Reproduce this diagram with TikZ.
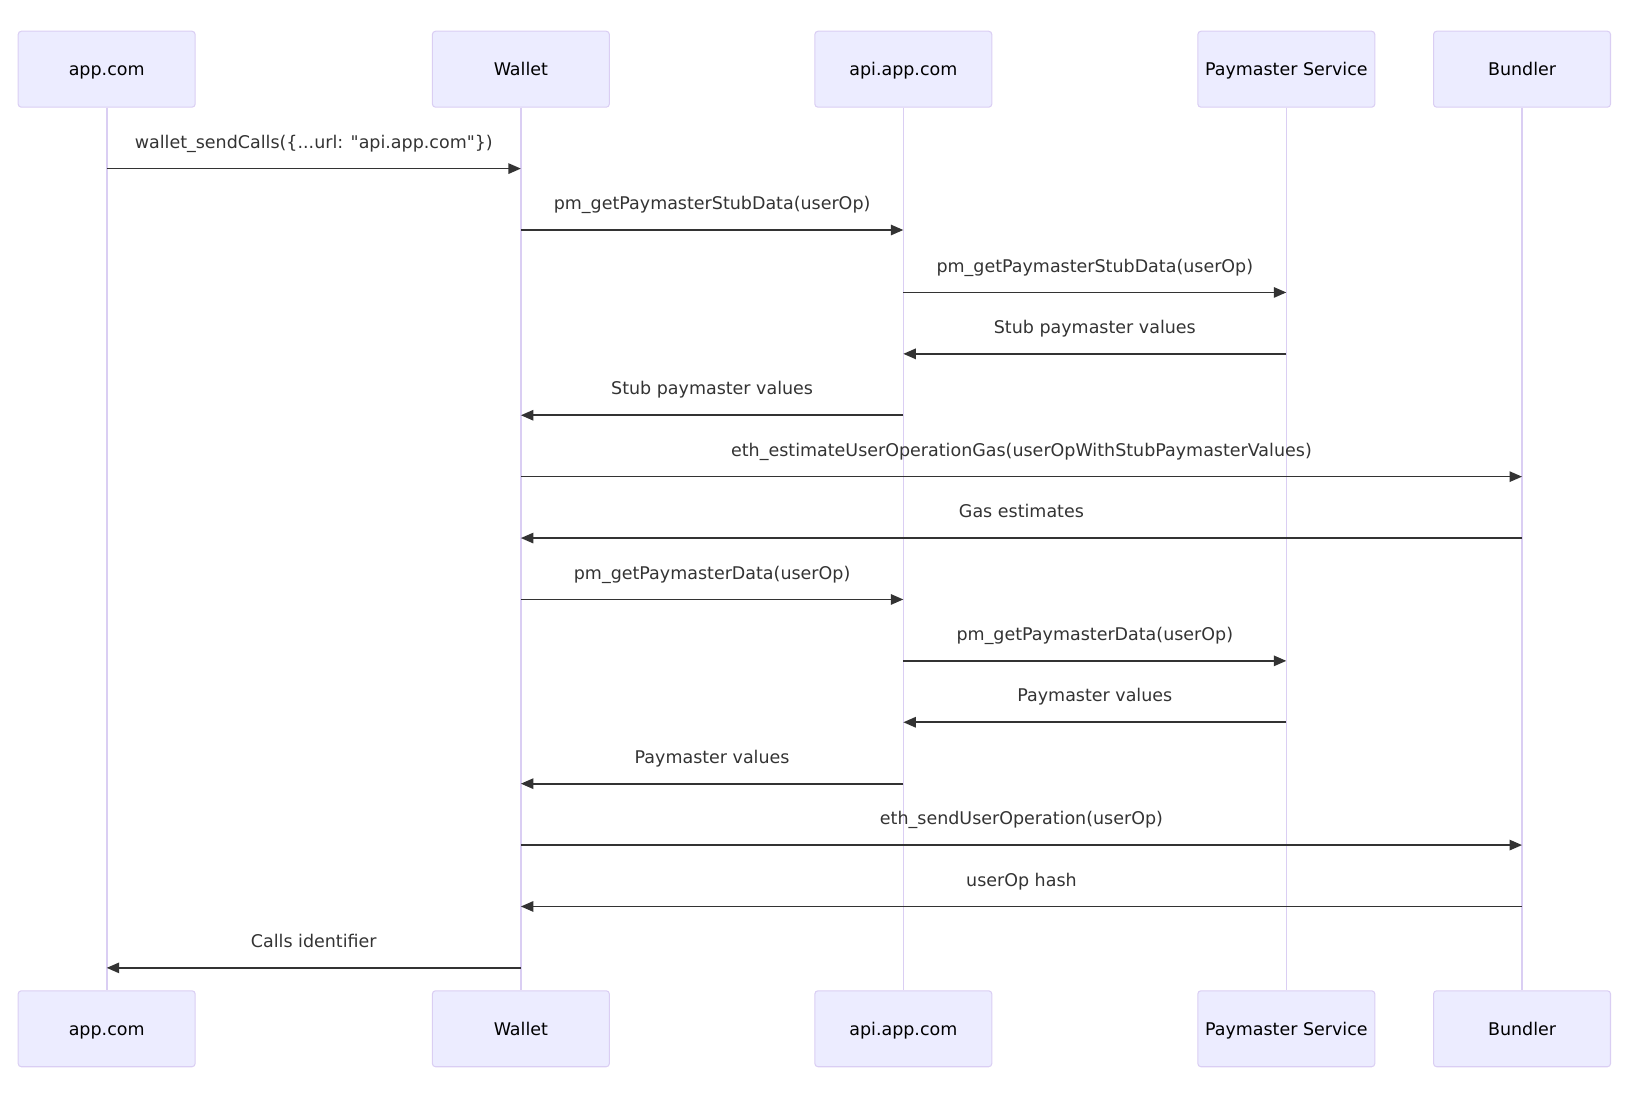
\documentclass[tikz,border=0pt]{standalone}
\usepackage{fontspec}
\setmainfont{DejaVu Sans}[Ligatures=TeXOff]
\usetikzlibrary{arrows.meta,positioning}
\definecolor{actorfill}{HTML}{ECECFF}
\definecolor{actorline}{HTML}{DACEF3}
\definecolor{msgline}{HTML}{333333}
\tikzstyle{actor}=[draw=actorline, fill=actorfill, rounded corners=3pt, line width=1pt,
    minimum width=170pt, minimum height=73pt, text height=14pt, text depth=2pt,
    font=\fontsize{16.8}{20}\selectfont]
\tikzstyle{lifeline}=[draw=actorline, line width=1.6pt]
\tikzstyle{msg}=[draw=msgline, line width=1.6pt, -{Triangle[length=12pt,width=10pt]}]
\tikzstyle{msglabel}=[text=msgline, yshift=24pt, text height=12.5pt, text depth=3.5pt,
    font=\fontsize{16.8}{20}\selectfont]

\begin{document}
\begin{tikzpicture}[x=1pt, y=-1pt]
            \useasboundingbox (0,0) rectangle (1572,1053);

            % actors, top row
            \node[actor] (app) at (102.5,66.5) {app.com};
            \node[actor] (wallet) at (500.5,66.5) {Wallet};
            \node[actor] (api) at (868,66.5) {api.app.com};
            \node[actor] (pms) at (1236,66.5) {Paymaster Service};
            \node[actor] (bundler) at (1462.5,66.5) {Bundler};

            % actors, bottom row
            \node[actor] (app2) at (102.5,988.5) {app.com};
            \node[actor] (wallet2) at (500.5,988.5) {Wallet};
            \node[actor] (api2) at (868,988.5) {api.app.com};
            \node[actor] (pms2) at (1236,988.5) {Paymaster Service};
            \node[actor] (bundler2) at (1462.5,988.5) {Bundler};

            \path
                (app) edge[lifeline] (app2)
                (wallet) edge[lifeline] (wallet2)
                (api) edge[lifeline] (api2)
                (pms) edge[lifeline] (pms2)
                (bundler) edge[lifeline] (bundler2)
            ;

            % message rows
            \coordinate (m1) at (0,162);
            \coordinate (m2) at (0,221);
            \coordinate (m3) at (0,281);
            \coordinate (m4) at (0,340);
            \coordinate (m5) at (0,399);
            \coordinate (m6) at (0,458);
            \coordinate (m7) at (0,517);
            \coordinate (m8) at (0,576);
            \coordinate (m9) at (0,635);
            \coordinate (m10) at (0,694);
            \coordinate (m11) at (0,753);
            \coordinate (m12) at (0,812);
            \coordinate (m13) at (0,871);
            \coordinate (m14) at (0,930);

            \draw[msg] (app |- m1) -- node[msglabel] {wallet\_sendCalls(\{...url: "api.app.com"\})} (wallet |- m1);
            \draw[msg] (wallet |- m2) -- node[msglabel] {pm\_getPaymasterStubData(userOp)} (api |- m2);
            \draw[msg] (api |- m3) -- node[msglabel] {pm\_getPaymasterStubData(userOp)} (pms |- m3);
            \draw[msg] (pms |- m4) -- node[msglabel] {Stub paymaster values} (api |- m4);
            \draw[msg] (api |- m5) -- node[msglabel] {Stub paymaster values} (wallet |- m5);
            \draw[msg] (wallet |- m6) -- node[msglabel] {eth\_estimateUserOperationGas(userOpWithStubPaymasterValues)} (bundler |- m6);
            \draw[msg] (bundler |- m7) -- node[msglabel] {Gas estimates} (wallet |- m7);
            \draw[msg] (wallet |- m8) -- node[msglabel] {pm\_getPaymasterData(userOp)} (api |- m8);
            \draw[msg] (api |- m9) -- node[msglabel] {pm\_getPaymasterData(userOp)} (pms |- m9);
            \draw[msg] (pms |- m10) -- node[msglabel] {Paymaster values} (api |- m10);
            \draw[msg] (api |- m11) -- node[msglabel] {Paymaster values} (wallet |- m11);
            \draw[msg] (wallet |- m12) -- node[msglabel] {eth\_sendUserOperation(userOp)} (bundler |- m12);
            \draw[msg] (bundler |- m13) -- node[msglabel] {userOp hash} (wallet |- m13);
            \draw[msg] (wallet |- m14) -- node[msglabel] {Calls identifier} (app |- m14);
\end{tikzpicture}
\end{document}
